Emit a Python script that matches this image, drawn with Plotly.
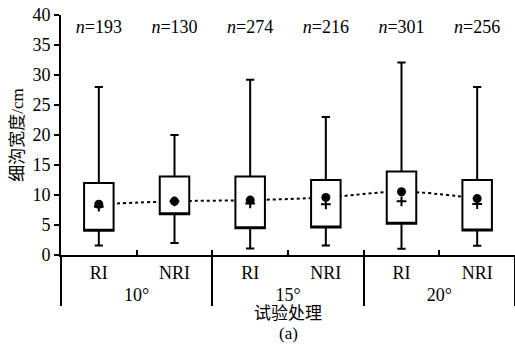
import plotly.graph_objects as go

groups = ["10°", "10°", "15°", "15°", "20°", "20°"]
treatments = ["RI", "NRI", "RI", "NRI", "RI", "NRI"]
n_labels = ["193", "130", "274", "216", "301", "256"]
upper = [28.0, 20.0, 29.2, 23.0, 32.1, 28.0]
q3 = [12.0, 13.1, 13.1, 12.5, 13.9, 12.5]
q1 = [4.05, 6.8, 4.45, 4.6, 5.2, 4.1]
lower = [1.6, 2.0, 1.1, 1.6, 1.05, 1.55]
means = [8.45, 8.95, 9.15, 9.6, 10.55, 9.4]
medians = [8.05, 8.95, 8.6, 8.45, 8.95, 8.5]

x = [groups, treatments]
pos = list(range(len(treatments)))  # category slots on the overlay axis
SERIF = "Liberation Serif, Times New Roman, serif"
CJK = "Liberation Serif, Noto Sans CJK SC, serif"
FS = 18

fig = go.Figure()

# dotted trend line of the means (bottom layer)
fig.add_trace(go.Scatter(
    x=x, y=means, mode="lines", xaxis="x", yaxis="y",
    line=dict(color="black", width=2, dash="dot", shape="spline", smoothing=1),
    hoverinfo="skip", showlegend=False))

# boxes (overlay layer)
fig.add_trace(go.Box(
    x=pos, q1=q1, median=q1, q3=q3, lowerfence=lower, upperfence=upper,
    xaxis="x2", yaxis="y2", width=0.39, whiskerwidth=0.28,
    fillcolor="white", line=dict(color="black", width=2),
    boxpoints=False, showlegend=False))

# mean dots
fig.add_trace(go.Scatter(
    x=pos, y=means, mode="markers", xaxis="x2", yaxis="y2",
    marker=dict(symbol="circle", size=9, color="black"), showlegend=False))

# median plus
fig.add_trace(go.Scatter(
    x=pos, y=medians, mode="markers", xaxis="x2", yaxis="y2",
    marker=dict(symbol="cross-thin", size=7, color="black",
                line=dict(color="black", width=2)), showlegend=False))

# n labels
fig.add_trace(go.Scatter(
    x=pos, y=[37.7] * 6, mode="text", xaxis="x2", yaxis="y2",
    text=["<i>n</i>=" + v for v in n_labels],
    textfont=dict(family=SERIF, size=FS, color="black"),
    textposition="middle center", showlegend=False))

fig.update_layout(
    width=515, height=345,
    margin=dict(l=61, r=0, t=15, b=90),
    paper_bgcolor="white", plot_bgcolor="white",
    font=dict(family=SERIF, size=FS, color="black"),
    xaxis=dict(type="multicategory", range=[-0.5, 5.5], automargin=False,
               showline=True, linecolor="black", linewidth=2,
               ticks="inside", ticklen=5, tickwidth=2, tickcolor="black",
               showdividers=True, dividercolor="black", dividerwidth=2,
               showgrid=False, zeroline=False,
               tickfont=dict(family=SERIF, size=FS, color="black")),
    yaxis=dict(range=[0, 40], dtick=5, showline=True, linecolor="black", linewidth=2,
               ticks="outside", ticklen=5, tickwidth=2, tickcolor="black",
               showgrid=False, zeroline=False, automargin=False,
               tickfont=dict(family=SERIF, size=FS, color="black"),
               title=dict(text="细沟宽度/cm", font=dict(family=CJK, size=17, color="black"),
                          standoff=4)),
    xaxis2=dict(overlaying="x", range=[-0.5, 5.5], visible=False,
                showgrid=False, zeroline=False),
    yaxis2=dict(overlaying="y", range=[0, 40], visible=False,
                showgrid=False, zeroline=False),
    annotations=[
        dict(text="试验处理", xref="paper", yref="paper", x=0.5, y=-0.242,
             showarrow=False, yanchor="middle", xanchor="center",
             font=dict(family=CJK, size=17, color="black")),
        dict(text="(a)", xref="paper", yref="paper", x=0.5, y=-0.325,
             showarrow=False, yanchor="middle", xanchor="center",
             font=dict(family=SERIF, size=17, color="black")),
    ],
)

fig.write_html("out.html", config={"displayModeBar": False},
               post_script="document.body.style.margin='0px';")
